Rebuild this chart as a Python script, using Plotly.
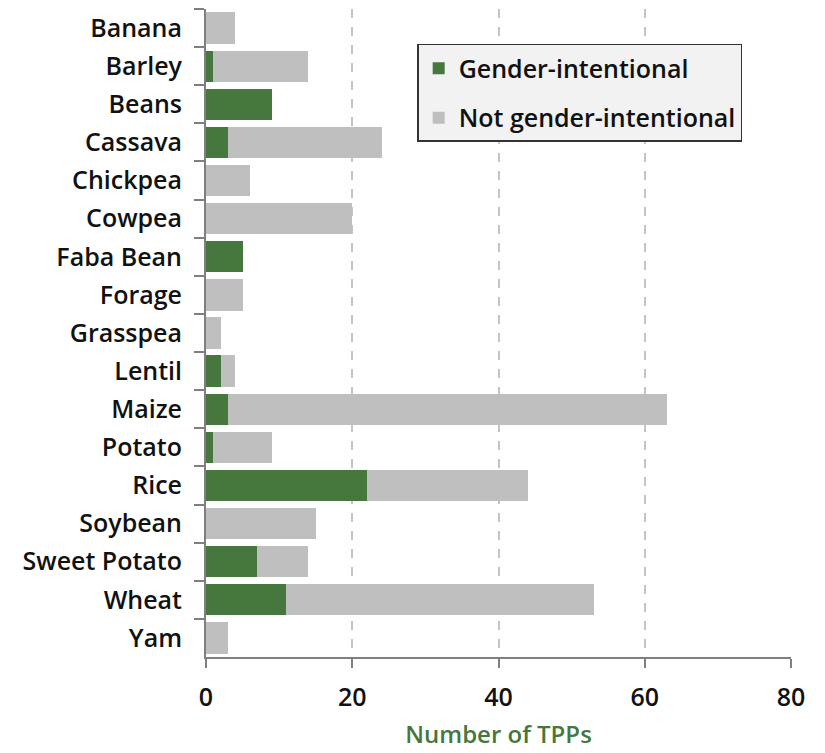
import plotly.graph_objects as go

crops = ["Banana", "Barley", "Beans", "Cassava", "Chickpea", "Cowpea", "Faba Bean",
         "Forage", "Grasspea", "Lentil", "Maize", "Potato", "Rice", "Soybean",
         "Sweet Potato", "Wheat", "Yam"]
gender_intentional = [0, 1, 9, 3, 0, 0, 5, 0, 0, 2, 3, 1, 22, 0, 7, 11, 0]
not_gender_intentional = [4, 13, 0, 21, 6, 20, 0, 5, 2, 2, 60, 8, 22, 15, 7, 42, 3]
x_ticks = [0, 20, 40, 60, 80]

GREEN = "#46773c"
GRAY = "#bfbfbf"
FONT = "Open Sans"

fig = go.Figure()
fig.add_trace(go.Bar(y=crops, x=gender_intentional, orientation="h",
                     name="Gender-intentional", marker_color=GREEN,
                     marker_line_width=0, legendgroup="g"))
fig.add_trace(go.Bar(y=crops, x=not_gender_intentional, orientation="h",
                     name="Not gender-intentional", marker_color=GRAY,
                     marker_line_width=0, legendgroup="n"))

fig.update_layout(
    width=825, height=753,
    barmode="stack", bargap=0.18,
    margin=dict(l=198, r=42, t=1, b=104),
    plot_bgcolor="white", paper_bgcolor="white",
    font=dict(family=FONT, size=22, color="#111111"),
    legend=dict(x=0.361, y=0.946, xanchor="left", yanchor="top",
                traceorder="grouped",
                bgcolor="#f2f2f2", bordercolor="#333333", borderwidth=1.5,
                font=dict(family=FONT, size=25, color="#111111", weight=600),
                tracegroupgap=14, itemwidth=30),
    xaxis=dict(range=[0, 80], tickvals=x_ticks, showgrid=True, automargin=False,
               gridcolor="#c4c4c4", griddash="dash", gridwidth=1.5,
               showline=True, linecolor="#7f7f7f", linewidth=2,
               ticks="outside", ticklen=9, tickwidth=2, tickcolor="#7f7f7f",
               ticklabelstandoff=8,
               tickfont=dict(family=FONT, size=25, weight=600, color="#111111"),
               title=dict(text="Number of TPPs", standoff=14,
                          font=dict(family=FONT, size=24, color=GREEN, weight=600)),
               zeroline=False),
    yaxis=dict(categoryorder="array", categoryarray=crops, autorange="reversed",
               automargin=False,
               showline=True, linecolor="#7f7f7f", linewidth=2,
               ticks="outside", tickson="boundaries", ticklen=10, tickwidth=2,
               tickcolor="#7f7f7f", ticklabelstandoff=17,
               tickfont=dict(family=FONT, size=25, weight=600, color="#111111"),
               showgrid=False),
)

fig.write_html("out.html")
